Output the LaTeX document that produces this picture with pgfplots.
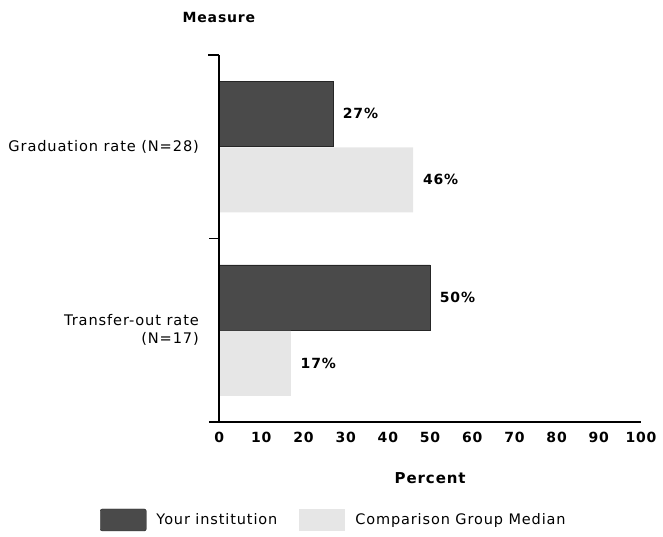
\documentclass[border=0pt]{standalone}
\usepackage{fontspec}
\setmainfont{DejaVu Sans}[LetterSpace=6]
\usepackage{pgfplots}
\pgfplotsset{compat=1.18}
\definecolor{darkbar}{HTML}{4A4A4A}
\definecolor{lightbar}{HTML}{E6E6E6}
\pgfplotsset{
  darkleg/.style={legend image code/.code={\filldraw[fill=darkbar, draw=black!85, rounded corners=2bp] (0bp,-11bp) rectangle (46bp,11bp);}},
  lightleg/.style={legend image code/.code={\fill[lightbar] (0bp,-11bp) rectangle (46bp,11bp);}},
}
\begin{document}
\fontsize{14bp}{16bp}\selectfont
\begin{tikzpicture}
\useasboundingbox (-209bp,-115bp) rectangle (454bp,422bp);
\begin{axis}[
  at={(0,0)}, anchor=south west,
  scale only axis, width=432bp, height=367bp,
  xbar, bar width=65bp,
  xmin=-2.4, xmax=100, ymin=-0.5, ymax=1.5, y dir=reverse,
  clip=false,
  axis x line*=bottom, axis y line*=left,
  y axis line style={draw=none},
  x axis line style={line width=1.2bp, -},
  xtick={0,10,...,100},
  major x tick style={draw=none},
  ytick={0,1},
  yticklabels={Graduation rate (N=28),{Transfer-out rate\\(N=17)}},
  major y tick style={draw=none},
  yticklabel style={align=right, font=\fontsize{14.6bp}{18bp}\selectfont, xshift=-1bp},
  xticklabel style={font=\fontsize{14bp}{16bp}\selectfont\bfseries, yshift=-5bp},
  /pgf/number format/assume math mode=true,
  xlabel={\bfseries Percent},
  xlabel style={at={(axis description cs:0.512,-0.153)}, anchor=center, font=\fontsize{15bp}{16bp}\selectfont},
  nodes near coords={\pgfmathprintnumber{\pgfplotspointmeta}\%},
  nodes near coords align={horizontal},
  every node near coord/.append style={font=\fontsize{14bp}{16bp}\selectfont\bfseries, xshift=5bp},
  legend style={at={(axis description cs:0.289,-0.267)}, anchor=center, draw=none,
    font=\fontsize{14.5bp}{16bp}\selectfont,
    /tikz/every odd column/.append style={column sep=8bp},
    /tikz/every even column/.append style={column sep=20bp}},
  legend columns=2,
]
\addplot[fill=darkbar, draw=black!85, bar shift=33bp, darkleg]
  coordinates {(27,0) (50,1)};
\addplot[fill=lightbar, draw=none, bar shift=-33bp, lightleg]
  coordinates {(46,0) (17,1)};
\legend{Your institution, Comparison Group Median}
\draw[line width=1.6bp] (axis cs:0,-0.5) -- (axis cs:0,1.5);
\draw[line width=1.4bp] (axis cs:0,-0.5) -- ([xshift=-11bp]axis cs:0,-0.5);
\draw[line width=1.4bp] (axis cs:0,0.5) -- ([xshift=-10bp]axis cs:0,0.5);
\node[font=\fontsize{14bp}{16bp}\selectfont\bfseries] at (axis description cs:0.023,1.1035) {Measure};
\end{axis}
\end{tikzpicture}
\end{document}
